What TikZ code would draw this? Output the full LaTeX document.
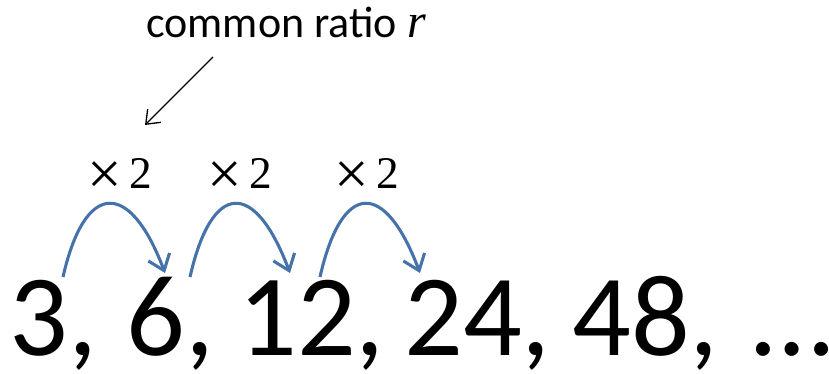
\documentclass[tikz,border=0pt]{standalone}
\usepackage{fontspec}
\setmainfont{Carlito}
\newfontfamily\mathlike{Liberation Serif}
\usetikzlibrary{arrows.meta}
\definecolor{arcblue}{RGB}{70,114,170}
\newcommand{\bigtimes}{{\fontsize{46}{46}\selectfont\raisebox{-0.09em}{×}}}
\tikzset{
  arc/.style={draw=arcblue, line width=2.3pt, -{Straight Barb[length=11pt,width=17pt,line width=2.3pt]}},
  pointer/.style={draw=black, line width=1pt, -{Straight Barb[length=9pt,width=14pt,line width=1pt]}},
  lbl/.style={inner sep=0pt, font=\mathlike\fontsize{34}{38}\selectfont},
  term/.style={inner sep=0pt, anchor=base west, font=\fontsize{87}{90}\selectfont},
}
\begin{document}
\begin{tikzpicture}[x=0.75pt, y=-0.75pt]
\useasboundingbox (0,0) rectangle (829,374);
\node[term] (t1) at (9,355) {3,};
\node[term] (t2) at (126,355) {6,};
\node[term] (t3) at (238,355) {12,};
\node[term] (t4) at (404,355) {24,};
\node[term] (t5) at (572,355) {48,};
\node[term] (t6) at (752,355) {\ldots};
\node[inner sep=0pt, anchor=base west, font=\fontsize{33}{38}\selectfont] (cr) at (146,38) {common ratio {\mathlike\itshape\fontsize{36}{38}\selectfont r}};
\coordinate (ptA) at (213,57);
\coordinate (ptB) at (145,125);
\draw[pointer] (ptA) -- (ptB);
\node[lbl, anchor=base] (m1) at (120,189) {\bigtimes\,2};
\node[lbl, anchor=base] (m2) at (240,189) {\bigtimes\,2};
\node[lbl, anchor=base] (m3) at (367,189) {\bigtimes\,2};
\coordinate (s1) at (63,277);  \coordinate (e1) at (165,273);
\coordinate (s2) at (190,277); \coordinate (e2) at (290,273);
\coordinate (s3) at (320,277); \coordinate (e3) at (420,273);
\draw[arc] (s1) .. controls (85,180) and (130,180) .. (e1);
\draw[arc] (s2) .. controls (212,180) and (255,180) .. (e2);
\draw[arc] (s3) .. controls (342,180) and (385,180) .. (e3);
\end{tikzpicture}
\end{document}
